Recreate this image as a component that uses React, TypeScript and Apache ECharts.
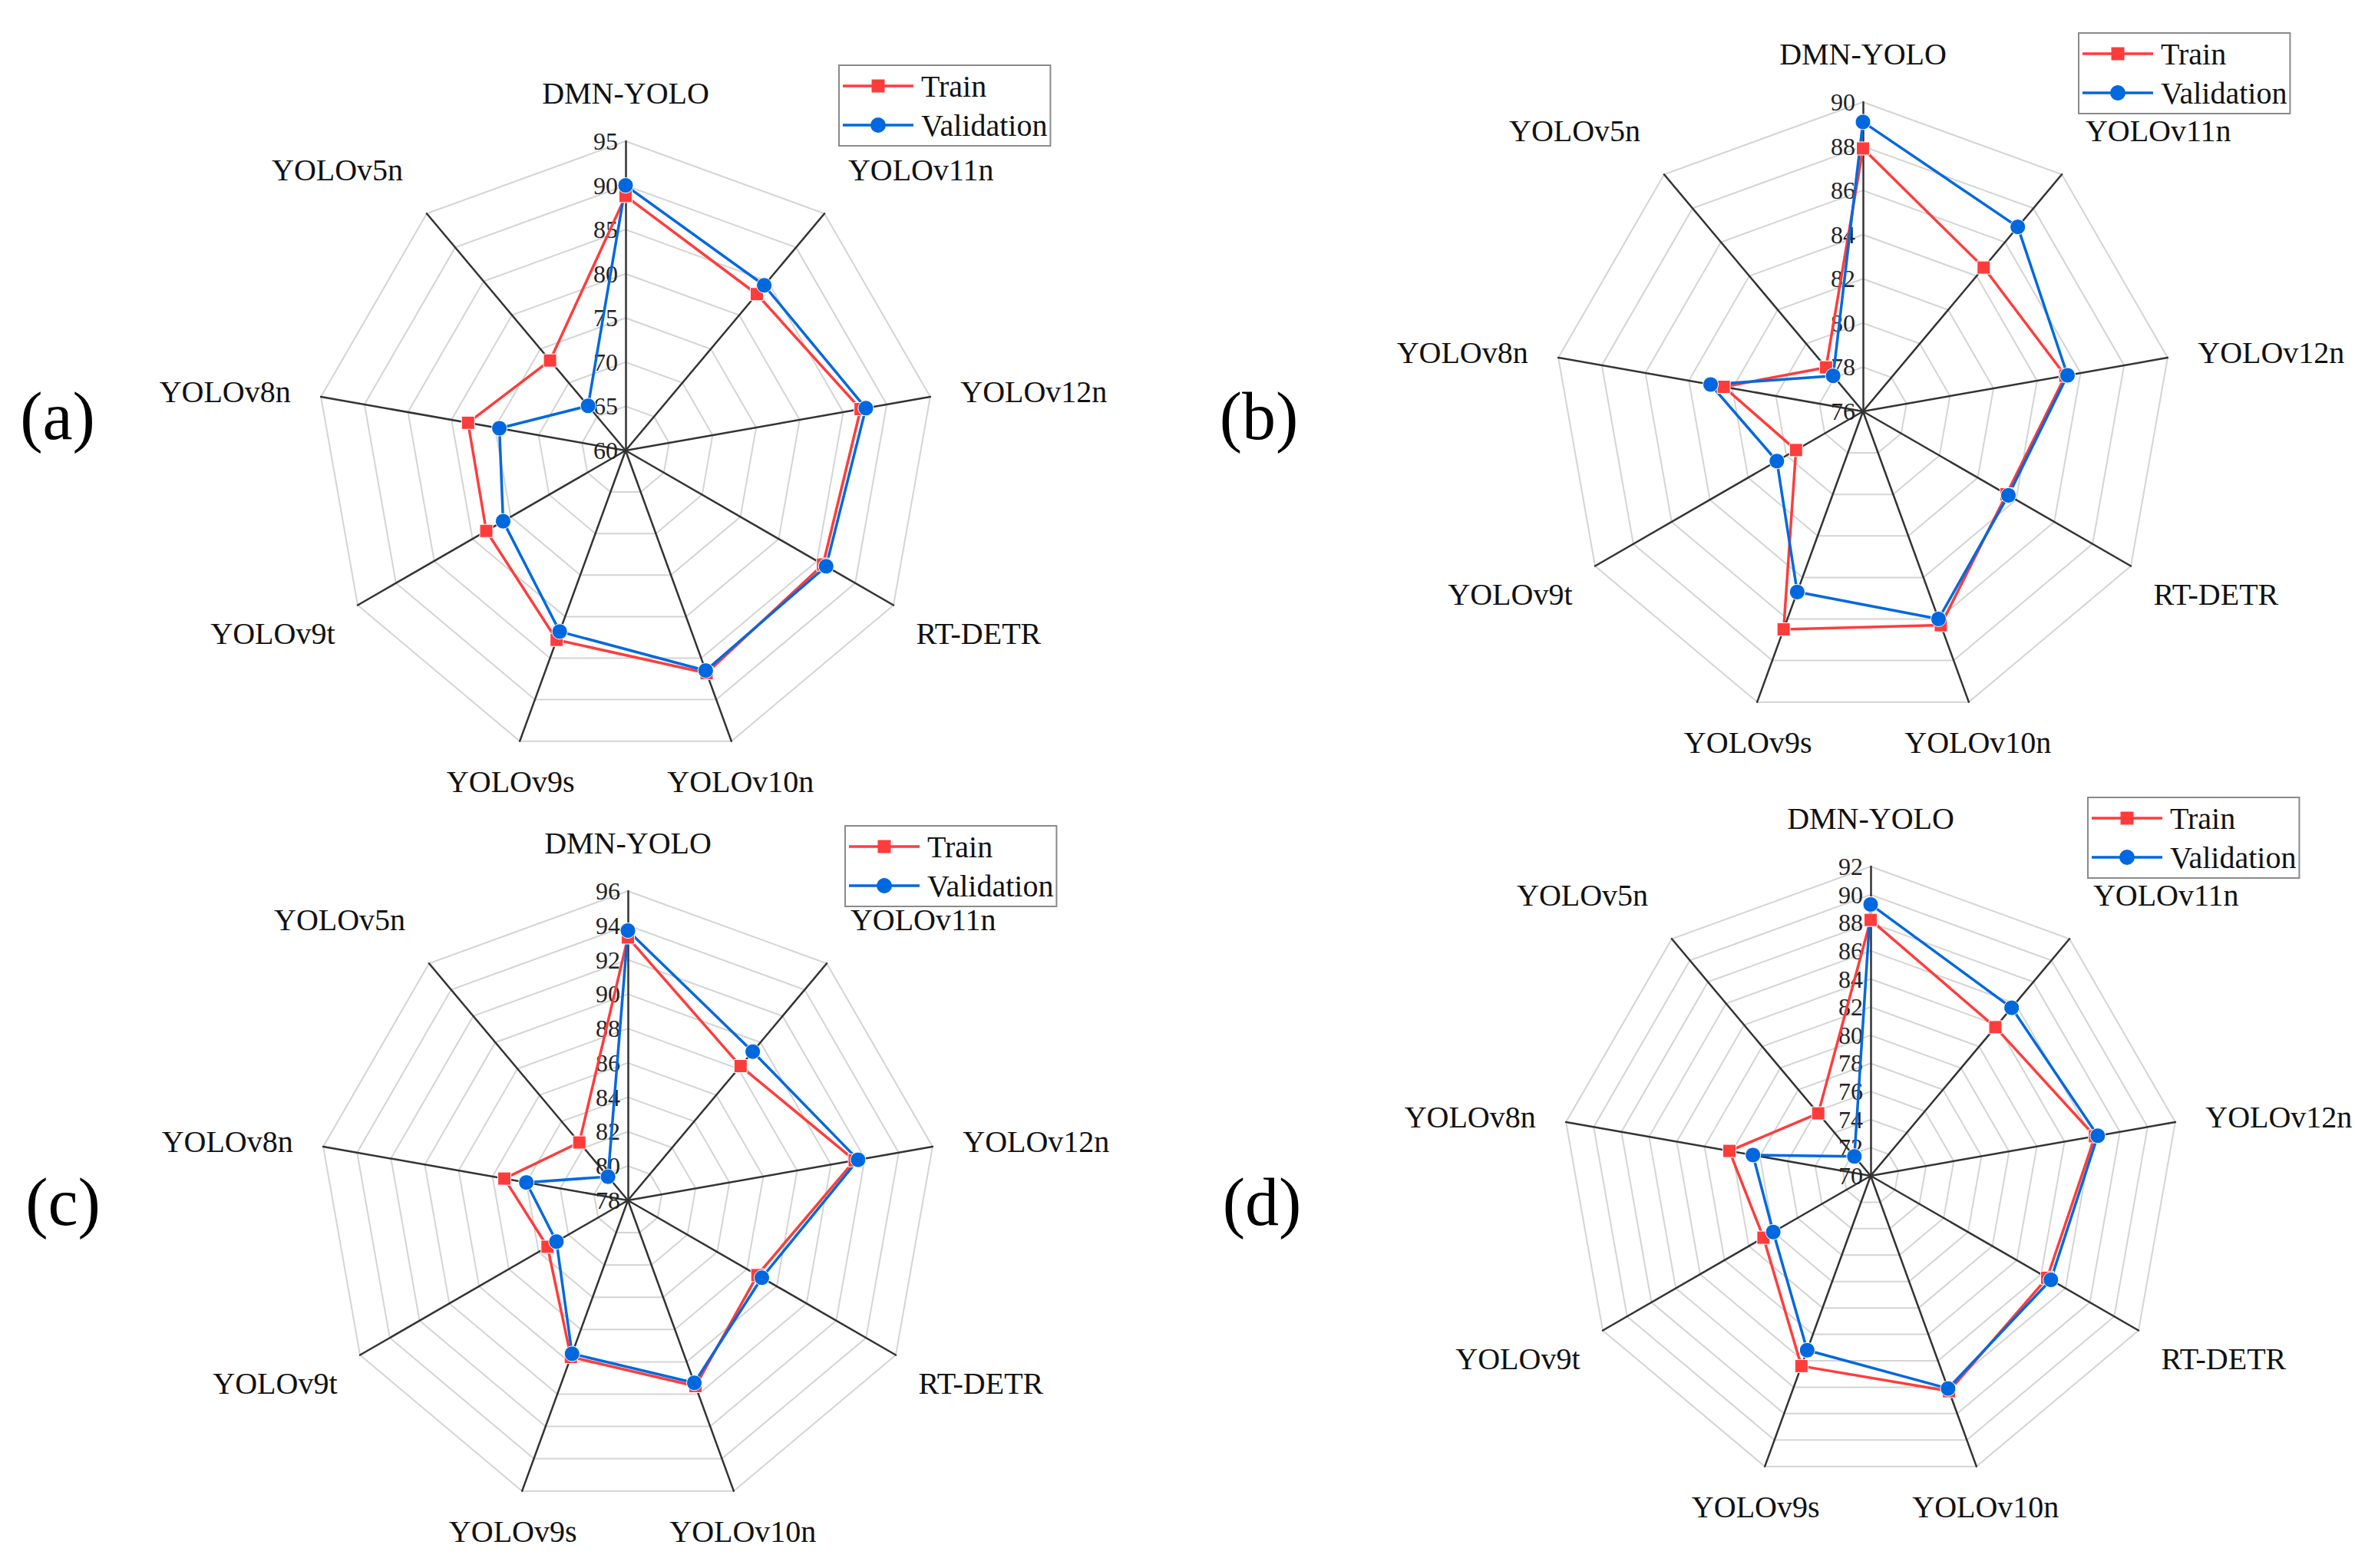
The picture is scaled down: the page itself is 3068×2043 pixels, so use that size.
import React, { useEffect, useRef } from 'react';
import * as echarts from 'echarts';

// Categories in the reference's clockwise order, starting at the top
const CATEGORIES = ['DMN-YOLO', 'YOLOv11n', 'YOLOv12n', 'RT-DETR', 'YOLOv10n', 'YOLOv9s', 'YOLOv9t', 'YOLOv8n', 'YOLOv5n'];

const TRAIN_A = [88.8, 83.1, 87.0, 85.8, 86.8, 82.8, 78.2, 78.1, 73.3];
const VAL_A = [90.0, 84.4, 87.6, 86.2, 86.5, 81.8, 76.0, 74.5, 66.6];

const TRAIN_B = [87.9, 84.5, 85.3, 83.5, 86.3, 86.5, 79.5, 82.4, 78.6];
const VAL_B = [89.1, 86.9, 85.4, 83.6, 86.0, 84.7, 80.5, 83.0, 78.1];

const TRAIN_C = [93.3, 88.2, 91.4, 86.7, 89.5, 87.7, 83.4, 85.3, 82.4];
const VAL_C = [93.7, 89.3, 91.6, 87.0, 89.3, 87.5, 82.8, 84.0, 79.8];

const TRAIN_D = [88.2, 83.8, 86.2, 84.5, 86.3, 84.4, 78.8, 80.2, 75.8];
const VAL_D = [89.3, 85.6, 86.4, 84.8, 86.1, 83.2, 78.0, 78.5, 71.8];

// radial scale of each panel: min, max, number of intervals
const SCALE_MIN = [60, 76, 78, 70];
const SCALE_MAX = [95, 90, 96, 92];
const SCALE_SPLIT = [7, 7, 9, 11];

const PANEL_LABELS = ['(a)', '(b)', '(c)', '(d)'];
const SERIES_NAMES = ['Train', 'Validation'];

// layout (pixels)
const CENTERS = [[815, 587], [2427, 536], [818, 1564], [2437, 1532]];
const LEGEND_POS = [[1093, 85], [2708, 43], [1101, 1076], [2720, 1039]];
const LETTER_POS = [[75, 542], [1640, 542], [82, 1566], [1644, 1566]];
const RADIUS = 403;

// name placement per category (clockwise order): gap, align, vertical align, padding
const NAME_GAP = [43, 48, 40, 34, 35, 35, 34, 40, 48];
const NAME_ALIGN = [null, 'left', 'left', 'left', 'center', 'center', 'right', 'right', 'right'];
const NAME_VALIGN = [null, 'bottom', 'middle', 'top', 'top', 'top', 'top', 'middle', 'bottom'];
const NAME_PAD = [null, null, [0, 0, 14, 0], null, null, null, null, [0, 0, 14, 0], null];

const SERIF = '"Liberation Serif", "Times New Roman", serif';
const RED = '#FF3C3C';
const BLUE = '#0068DE';

// ECharts lays out radar indicators counter-clockwise; the reference is clockwise
const ORDER = [0, 8, 7, 6, 5, 4, 3, 2, 1];

const TRAIN_ICON = 'path://M0,6.75H37.5V0H54.5V6.75H92V10.25H54.5V17H37.5V10.25H0Z';
const VAL_ICON = 'path://M0,8.25H92V11.75H0ZM36,10A10,10,0,1,1,56,10A10,10,0,1,1,36,10Z';

export default function App() {
  const ref = useRef<HTMLDivElement>(null);

  useEffect(() => {
    document.body.style.margin = '0';
    document.body.style.overflow = 'hidden';
    const chart = echarts.init(ref.current as HTMLDivElement, null, { renderer: 'svg' });

    const trains = [TRAIN_A, TRAIN_B, TRAIN_C, TRAIN_D];
    const vals = [VAL_A, VAL_B, VAL_C, VAL_D];

    const radars: any[] = [];
    const series: any[] = [];
    const legends: any[] = [];
    const graphics: any[] = [];

    for (let k = 0; k < 4; k++) {
      const indicator = ORDER.map((i) => {
        const ind: any = {
          name: CATEGORIES[i],
          min: SCALE_MIN[k],
          max: SCALE_MAX[k],
          nameGap: NAME_GAP[i],
        };
        if (NAME_ALIGN[i]) {
          const nts: any = { align: NAME_ALIGN[i], verticalAlign: NAME_VALIGN[i] };
          if (NAME_PAD[i]) nts.padding = NAME_PAD[i];
          ind.nameTextStyle = nts;
        }
        if (i === 0) {
          ind.axisLabel = {
            show: true,
            fontSize: 32,
            color: '#222',
            fontFamily: SERIF,
            margin: 10,
          };
        }
        return ind;
      });

      radars.push({
        center: CENTERS[k],
        radius: RADIUS,
        startAngle: 90,
        shape: 'polygon',
        splitNumber: SCALE_SPLIT[k],
        nameGap: 44,
        indicator,
        axisName: { color: '#111', fontSize: 40, fontFamily: SERIF },
        axisLine: { lineStyle: { color: '#333', width: 2.5 } },
        splitLine: { lineStyle: { color: '#d4d4d4', width: 2 } },
        splitArea: { show: false },
        axisTick: { show: false },
        axisLabel: { show: false },
      });

      series.push({
        type: 'radar',
        radarIndex: k,
        name: SERIES_NAMES[0],
        symbol: 'rect',
        symbolSize: 17,
        lineStyle: { color: RED, width: 3.5 },
        itemStyle: { color: RED, borderColor: '#fff', borderWidth: 1 },
        data: [{ name: SERIES_NAMES[0], value: ORDER.map((i) => trains[k][i]) }],
      });
      series.push({
        type: 'radar',
        radarIndex: k,
        name: SERIES_NAMES[1],
        symbol: 'circle',
        symbolSize: 20,
        lineStyle: { color: BLUE, width: 3.5 },
        itemStyle: { color: BLUE, borderColor: '#fff', borderWidth: 1 },
        data: [{ name: SERIES_NAMES[1], value: ORDER.map((i) => vals[k][i]) }],
      });

      legends.push({
        orient: 'vertical',
        left: LEGEND_POS[k][0],
        top: LEGEND_POS[k][1],
        data: [
          { name: SERIES_NAMES[0], icon: TRAIN_ICON },
          { name: SERIES_NAMES[1], icon: VAL_ICON },
        ],
        itemWidth: 92,
        itemHeight: 20,
        itemGap: 11,
        itemStyle: { borderWidth: 0 },
        textStyle: { fontSize: 40, fontFamily: SERIF, color: '#111', padding: [0, 0, 0, 5] },
        borderColor: '#8a8a8a',
        borderWidth: 2,
        padding: [7, 4, 7, 5],
        selectedMode: false,
      });

      graphics.push({
        type: 'text',
        x: LETTER_POS[k][0],
        y: LETTER_POS[k][1],
        style: {
          text: PANEL_LABELS[k],
          fontSize: 88,
          fontFamily: SERIF,
          fill: '#000',
          align: 'center',
          verticalAlign: 'middle',
        },
      });
    }

    chart.setOption({
      animation: false,
      backgroundColor: '#fff',
      radar: radars,
      series,
      legend: legends,
      graphic: graphics,
    });

    return () => chart.dispose();
  }, []);

  return <div ref={ref} style={{ width: 3068, height: 2043 }} />;
}
